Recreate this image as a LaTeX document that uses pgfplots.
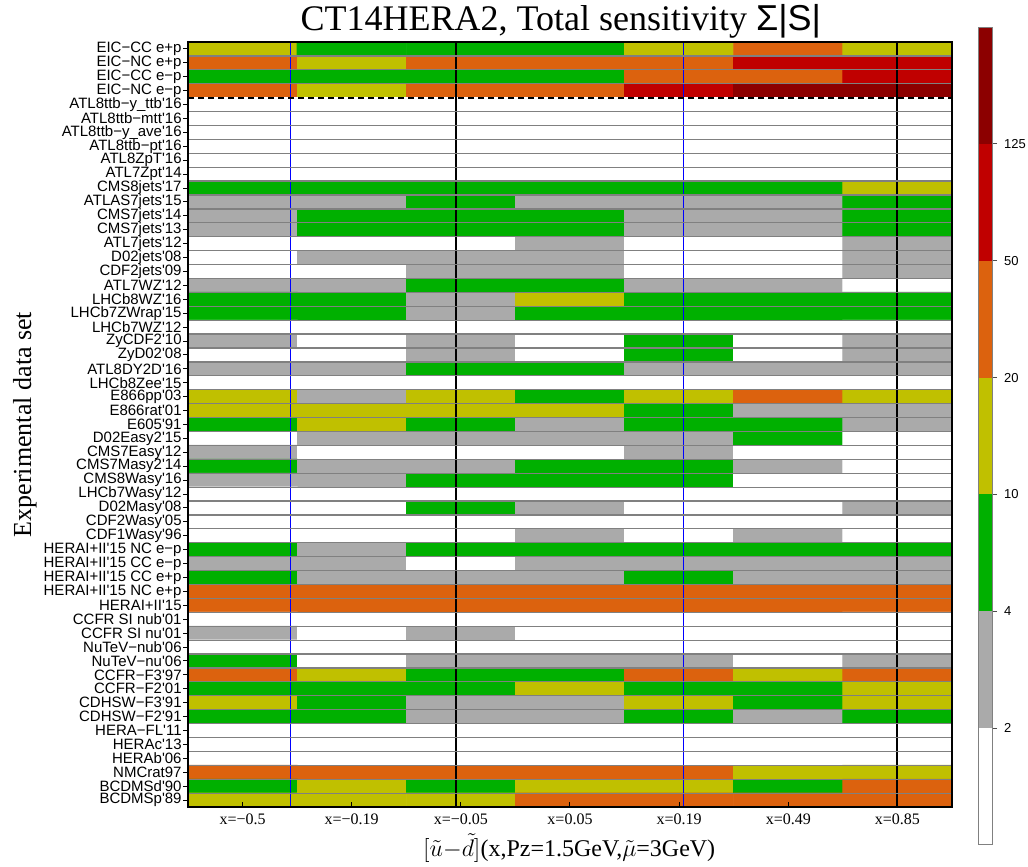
\documentclass[border=0pt]{standalone}
\usepackage{fontspec}
\setmainfont{Liberation Serif}
\setsansfont{Liberation Sans}
\newfontfamily\labfont[Ligatures=TeXOff]{Liberation Sans}
\usepackage{pgfplots}
\pgfplotsset{compat=1.18}
\definecolor{cW}{RGB}{255,255,255}
\definecolor{cG}{RGB}{170,170,170}
\definecolor{cGr}{RGB}{0,176,0}
\definecolor{cY}{RGB}{192,192,0}
\definecolor{cO}{RGB}{220,98,14}
\definecolor{cR}{RGB}{192,0,0}
\definecolor{cD}{RGB}{140,0,0}
\begin{document}
\begin{tikzpicture}
\useasboundingbox (0,0) rectangle (514pt,433.5pt);
\begin{axis}[
  at={(94pt,30pt)}, anchor=south west,
  scale only axis, width=382pt, height=382.5pt,
  xmin=-0.5, xmax=6.5, ymin=-0.5, ymax=54.5, y dir=reverse,
  axis on top,
  colormap={sens}{rgb255=(255,255,255) rgb255=(170,170,170) rgb255=(0,176,0) rgb255=(192,192,0) rgb255=(220,98,14) rgb255=(192,0,0) rgb255=(140,0,0)},
  colormap access=direct,
  xtick={0,...,6},
  xticklabels={x=−0.5,x=−0.19,x=−0.05,x=0.05,x=0.19,x=0.49,x=0.85},
  ytick={0,...,54},
  yticklabels={EIC−CC e+p,EIC−NC e+p,EIC−CC e−p,EIC−NC e−p,ATL8ttb−y\_ttb'16,ATL8ttb−mtt'16,ATL8ttb−y\_ave'16,ATL8ttb−pt'16,ATL8ZpT'16,ATL7Zpt'14,CMS8jets'17,ATLAS7jets'15,CMS7jets'14,CMS7jets'13,ATL7jets'12,D02jets'08,CDF2jets'09,ATL7WZ'12,LHCb8WZ'16,LHCb7ZWrap'15,LHCb7WZ'12,ZyCDF2'10,ZyD02'08,ATL8DY2D'16,LHCb8Zee'15,E866pp'03,E866rat'01,E605'91,D02Easy2'15,CMS7Easy'12,CMS7Masy2'14,CMS8Wasy'16,LHCb7Wasy'12,D02Masy'08,CDF2Wasy'05,CDF1Wasy'96,HERAI+II'15 NC e−p,HERAI+II'15 CC e−p,HERAI+II'15 CC e+p,HERAI+II'15 NC e+p,HERAI+II'15,CCFR SI nub'01,CCFR SI nu'01,NuTeV−nub'06,NuTeV−nu'06,CCFR−F3'97,CCFR−F2'01,CDHSW−F3'91,CDHSW−F2'91,HERA−FL'11,HERAc'13,HERAb'06,NMCrat97,BCDMSd'90,BCDMSp'89},
  xtick pos=left, ytick pos=left,
  tick align=inside, major tick length=2.5pt,
  ytick style={xshift=-2.5pt},
  tick style={black, line width=0.5pt},
  minor ytick={0.5,1.5,2.5,4.5,5.5,...,53.5},
  yminorgrids=true,
  minor grid style={gray, line width=0.6pt},
  minor tick length=0pt,
  axis line style={black, line width=0.6pt},
  yticklabel style={font=\labfont\fontsize{7.5}{8}\selectfont, inner sep=1pt, xshift=-2pt},
  xticklabel style={font=\fontsize{8}{9}\selectfont},
  title={CT14HERA2, Total sensitivity {\sffamily Σ|S|}},
  title style={at={(axis description cs:0.488,0.9987)}, anchor=base, font=\fontsize{18}{20}\selectfont},
  xlabel={$[\tilde{u}{-}\tilde{d}]$(x,Pz=1.5GeV,$\tilde{\mu}$=3GeV)},
  xlabel style={at={(axis description cs:0.499,-0.0536)}, anchor=center, font=\fontsize{12}{14}\selectfont},
  ylabel={Experimental data set},
  ylabel style={at={(axis description cs:-0.2134,0.5)}, anchor=center, font=\fontsize{13}{15}\selectfont},
]
\addplot[matrix plot*, mesh/cols=7, point meta=explicit] coordinates {
(0,0)[3] (1,0)[2] (2,0)[2] (3,0)[2] (4,0)[3] (5,0)[4] (6,0)[3]
(0,1)[4] (1,1)[3] (2,1)[4] (3,1)[4] (4,1)[4] (5,1)[5] (6,1)[5]
(0,2)[2] (1,2)[2] (2,2)[2] (3,2)[2] (4,2)[4] (5,2)[4] (6,2)[5]
(0,3)[4] (1,3)[3] (2,3)[4] (3,3)[4] (4,3)[5] (5,3)[6] (6,3)[6]
(0,4)[0] (1,4)[0] (2,4)[0] (3,4)[0] (4,4)[0] (5,4)[0] (6,4)[0]
(0,5)[0] (1,5)[0] (2,5)[0] (3,5)[0] (4,5)[0] (5,5)[0] (6,5)[0]
(0,6)[0] (1,6)[0] (2,6)[0] (3,6)[0] (4,6)[0] (5,6)[0] (6,6)[0]
(0,7)[0] (1,7)[0] (2,7)[0] (3,7)[0] (4,7)[0] (5,7)[0] (6,7)[0]
(0,8)[0] (1,8)[0] (2,8)[0] (3,8)[0] (4,8)[0] (5,8)[0] (6,8)[0]
(0,9)[0] (1,9)[0] (2,9)[0] (3,9)[0] (4,9)[0] (5,9)[0] (6,9)[0]
(0,10)[2] (1,10)[2] (2,10)[2] (3,10)[2] (4,10)[2] (5,10)[2] (6,10)[3]
(0,11)[1] (1,11)[1] (2,11)[2] (3,11)[1] (4,11)[1] (5,11)[1] (6,11)[2]
(0,12)[1] (1,12)[2] (2,12)[2] (3,12)[2] (4,12)[1] (5,12)[1] (6,12)[2]
(0,13)[1] (1,13)[2] (2,13)[2] (3,13)[2] (4,13)[1] (5,13)[1] (6,13)[2]
(0,14)[0] (1,14)[0] (2,14)[0] (3,14)[1] (4,14)[0] (5,14)[0] (6,14)[1]
(0,15)[0] (1,15)[1] (2,15)[1] (3,15)[1] (4,15)[0] (5,15)[0] (6,15)[1]
(0,16)[0] (1,16)[0] (2,16)[1] (3,16)[1] (4,16)[0] (5,16)[0] (6,16)[1]
(0,17)[1] (1,17)[1] (2,17)[2] (3,17)[2] (4,17)[1] (5,17)[1] (6,17)[0]
(0,18)[2] (1,18)[2] (2,18)[1] (3,18)[3] (4,18)[2] (5,18)[2] (6,18)[2]
(0,19)[2] (1,19)[2] (2,19)[1] (3,19)[2] (4,19)[2] (5,19)[2] (6,19)[2]
(0,20)[0] (1,20)[0] (2,20)[0] (3,20)[0] (4,20)[0] (5,20)[0] (6,20)[0]
(0,21)[1] (1,21)[0] (2,21)[1] (3,21)[0] (4,21)[2] (5,21)[0] (6,21)[1]
(0,22)[0] (1,22)[0] (2,22)[1] (3,22)[0] (4,22)[2] (5,22)[0] (6,22)[1]
(0,23)[1] (1,23)[1] (2,23)[2] (3,23)[2] (4,23)[1] (5,23)[1] (6,23)[1]
(0,24)[0] (1,24)[0] (2,24)[0] (3,24)[0] (4,24)[0] (5,24)[0] (6,24)[0]
(0,25)[3] (1,25)[1] (2,25)[3] (3,25)[2] (4,25)[3] (5,25)[4] (6,25)[3]
(0,26)[3] (1,26)[3] (2,26)[3] (3,26)[3] (4,26)[2] (5,26)[1] (6,26)[1]
(0,27)[2] (1,27)[3] (2,27)[2] (3,27)[1] (4,27)[2] (5,27)[2] (6,27)[1]
(0,28)[0] (1,28)[1] (2,28)[1] (3,28)[1] (4,28)[1] (5,28)[2] (6,28)[0]
(0,29)[1] (1,29)[0] (2,29)[0] (3,29)[0] (4,29)[1] (5,29)[0] (6,29)[0]
(0,30)[2] (1,30)[1] (2,30)[1] (3,30)[2] (4,30)[2] (5,30)[1] (6,30)[0]
(0,31)[1] (1,31)[1] (2,31)[2] (3,31)[2] (4,31)[2] (5,31)[0] (6,31)[0]
(0,32)[0] (1,32)[0] (2,32)[0] (3,32)[0] (4,32)[0] (5,32)[0] (6,32)[0]
(0,33)[0] (1,33)[0] (2,33)[2] (3,33)[1] (4,33)[0] (5,33)[0] (6,33)[1]
(0,34)[0] (1,34)[0] (2,34)[0] (3,34)[0] (4,34)[0] (5,34)[0] (6,34)[0]
(0,35)[0] (1,35)[0] (2,35)[0] (3,35)[1] (4,35)[0] (5,35)[1] (6,35)[0]
(0,36)[2] (1,36)[1] (2,36)[2] (3,36)[2] (4,36)[2] (5,36)[2] (6,36)[2]
(0,37)[1] (1,37)[1] (2,37)[0] (3,37)[1] (4,37)[1] (5,37)[1] (6,37)[1]
(0,38)[2] (1,38)[1] (2,38)[1] (3,38)[1] (4,38)[2] (5,38)[1] (6,38)[1]
(0,39)[4] (1,39)[4] (2,39)[4] (3,39)[4] (4,39)[4] (5,39)[4] (6,39)[4]
(0,40)[4] (1,40)[4] (2,40)[4] (3,40)[4] (4,40)[4] (5,40)[4] (6,40)[4]
(0,41)[0] (1,41)[0] (2,41)[0] (3,41)[0] (4,41)[0] (5,41)[0] (6,41)[0]
(0,42)[1] (1,42)[0] (2,42)[1] (3,42)[0] (4,42)[0] (5,42)[0] (6,42)[0]
(0,43)[0] (1,43)[0] (2,43)[0] (3,43)[0] (4,43)[0] (5,43)[0] (6,43)[0]
(0,44)[2] (1,44)[0] (2,44)[1] (3,44)[1] (4,44)[1] (5,44)[0] (6,44)[1]
(0,45)[4] (1,45)[3] (2,45)[2] (3,45)[2] (4,45)[4] (5,45)[3] (6,45)[4]
(0,46)[2] (1,46)[2] (2,46)[2] (3,46)[3] (4,46)[2] (5,46)[2] (6,46)[3]
(0,47)[3] (1,47)[2] (2,47)[1] (3,47)[1] (4,47)[3] (5,47)[2] (6,47)[3]
(0,48)[2] (1,48)[2] (2,48)[1] (3,48)[1] (4,48)[2] (5,48)[1] (6,48)[2]
(0,49)[0] (1,49)[0] (2,49)[0] (3,49)[0] (4,49)[0] (5,49)[0] (6,49)[0]
(0,50)[0] (1,50)[0] (2,50)[0] (3,50)[0] (4,50)[0] (5,50)[0] (6,50)[0]
(0,51)[0] (1,51)[0] (2,51)[0] (3,51)[0] (4,51)[0] (5,51)[0] (6,51)[0]
(0,52)[4] (1,52)[4] (2,52)[4] (3,52)[4] (4,52)[4] (5,52)[3] (6,52)[3]
(0,53)[2] (1,53)[3] (2,53)[2] (3,53)[3] (4,53)[3] (5,53)[2] (6,53)[4]
(0,54)[3] (1,54)[3] (2,54)[3] (3,54)[4] (4,54)[4] (5,54)[4] (6,54)[4]
};
\addplot[blue, line width=0.6pt] coordinates {(0.44,-0.5) (0.44,54.5)};
\addplot[blue, line width=0.6pt] coordinates {(4.04,-0.5) (4.04,54.5)};
\addplot[black, line width=1pt] coordinates {(1.96,-0.5) (1.96,54.5)};
\addplot[black, line width=1pt] coordinates {(6.0,-0.5) (6.0,54.5)};
\addplot[black, line width=1pt, dash pattern=on 3pt off 2pt] coordinates {(-0.5,3.5) (6.5,3.5)};
\end{axis}
\begin{axis}[
  at={(489pt,11pt)}, anchor=south west,
  scale only axis, width=7pt, height=409pt,
  xmin=0, xmax=1, ymin=0, ymax=7,
  ybar stacked, bar width=7pt,
  xtick=\empty,
  ytick={1,2,3,4,5,6}, yticklabels={2,4,10,20,50,125},
  ytick pos=right, yticklabel pos=right,
  tick align=outside, major tick length=2.5pt,
  tick style={black!70, line width=0.4pt},
  yticklabel style={font=\sffamily\fontsize{6.5}{7}\selectfont},
  axis line style={gray, line width=0.5pt},
  axis on top,
]
\addplot[fill=cW, draw=none] coordinates {(0.5,1)};
\addplot[fill=cG, draw=none] coordinates {(0.5,1)};
\addplot[fill=cGr, draw=none] coordinates {(0.5,1)};
\addplot[fill=cY, draw=none] coordinates {(0.5,1)};
\addplot[fill=cO, draw=none] coordinates {(0.5,1)};
\addplot[fill=cR, draw=none] coordinates {(0.5,1)};
\addplot[fill=cD, draw=none] coordinates {(0.5,1)};
\end{axis}
\end{tikzpicture}
\end{document}
